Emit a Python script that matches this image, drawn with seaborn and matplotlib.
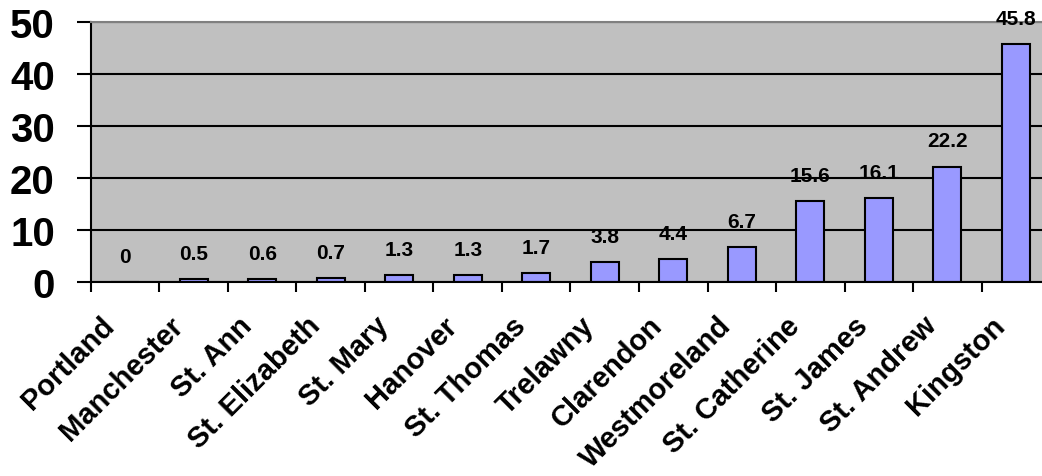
import pandas as pd
import matplotlib
matplotlib.use("Agg")
import matplotlib.pyplot as plt
import matplotlib.transforms as mtransforms
from matplotlib.ticker import FixedLocator
import seaborn as sns

parishes = ['Portland', 'Manchester', 'St. Ann', 'St. Elizabeth', 'St. Mary',
            'Hanover', 'St. Thomas', 'Trelawny', 'Clarendon', 'Westmoreland',
            'St. Catherine', 'St. James', 'St. Andrew', 'Kingston']
values = [0, 0.5, 0.6, 0.7, 1.3, 1.3, 1.7, 3.8, 4.4, 6.7, 15.6, 16.1, 22.2, 45.8]
value_labels = ['0', '0.5', '0.6', '0.7', '1.3', '1.3', '1.7', '3.8', '4.4',
                '6.7', '15.6', '16.1', '22.2', '45.8']
y_ticks = [0, 10, 20, 30, 40, 50]


def main():
    df = pd.DataFrame({'parish': parishes, 'value': values})

    plt.rcParams['font.family'] = ['Liberation Sans', 'DejaVu Sans']
    plt.rcParams['font.weight'] = 'bold'

    fig = plt.figure(figsize=(10.42, 4.77), dpi=100)
    ax = fig.add_axes([0.0873, 0.4067, 0.9204, 0.5451])
    ax.set_facecolor('#C0C0C0')

    sns.barplot(data=df, x='parish', y='value', color='#9999FF',
                edgecolor='black', linewidth=1.5, width=0.41,
                saturation=1, ax=ax, zorder=3)

    # value labels above the bars
    for i, (v, txt) in enumerate(zip(values, value_labels)):
        ax.annotate(txt, (i, v), xytext=(0, 14.5), textcoords='offset points',
                    ha='center', va='baseline', fontsize=15,
                    fontweight='bold', zorder=5, annotation_clip=False)

    ax.set_ylim(0, 50)
    ax.set_xlim(-0.5, len(parishes) - 0.5)
    ax.set_yticks(y_ticks)
    ax.set_yticklabels([str(t) for t in y_ticks], fontsize=29,
                       fontweight='bold')
    ax.grid(axis='y', color='black', linewidth=1.5, zorder=1)
    ax.set_axisbelow(True)

    # category labels at centres, tick marks at boundaries
    ax.set_xticks(range(len(parishes)))
    ax.set_xticklabels(parishes, rotation=45, ha='right',
                       rotation_mode='anchor', va='center',
                       fontsize=21, fontweight='bold')
    ax.tick_params(axis='x', which='major', length=0, pad=28)
    shift = mtransforms.ScaledTranslation(-15 / 100, 0, fig.dpi_scale_trans)
    for lbl in ax.get_xticklabels():
        lbl.set_transform(lbl.get_transform() + shift)
    ax.xaxis.set_minor_locator(FixedLocator(
        [i - 0.5 for i in range(len(parishes) + 1)]))
    ax.tick_params(axis='x', which='minor', length=7.5, width=1.5,
                   color='black')
    ax.tick_params(axis='y', length=10, width=1.5, pad=16)

    ax.set_xlabel('')
    ax.set_ylabel('')
    for side in ['left', 'bottom']:
        ax.spines[side].set_color('black')
        ax.spines[side].set_linewidth(1.5)
        ax.spines[side].set_zorder(4)
    for side in ['top', 'right']:
        ax.spines[side].set_color('#808080')
        ax.spines[side].set_linewidth(1.5)
        ax.spines[side].set_zorder(4)

    fig.savefig('out.png', dpi=100)


if __name__ == "__main__":
    main()
